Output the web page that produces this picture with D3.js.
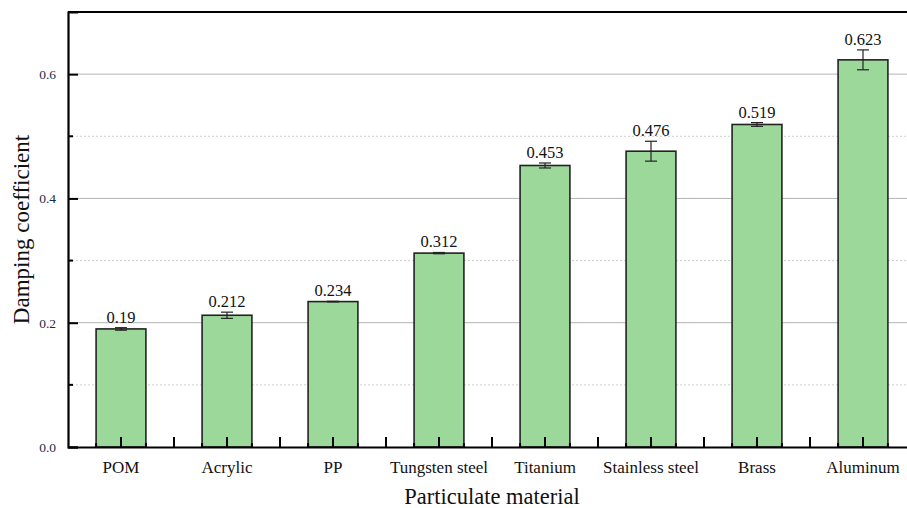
<!DOCTYPE html>
<html>
<head>
<meta charset="utf-8">
<script src="https://cdn.jsdelivr.net/npm/d3@7"></script>
<style>
  html, body { margin: 0; padding: 0; background: #fff; }
  svg { display: block; }
</style>
</head>
<body>
<svg id="chart" width="907" height="508"></svg>
<script>
// Damping coefficient by particle material (mean ± error)
const categories = ["POM", "Acrylic", "PP", "Tungsten steel", "Titanium", "Stainless steel", "Brass", "Aluminum"];
const values = [0.19, 0.212, 0.234, 0.312, 0.453, 0.476, 0.519, 0.623];
const errors = [0.002, 0.005, 0.0005, 0.001, 0.004, 0.016, 0.003, 0.016];
const majorTicks = [0.0, 0.2, 0.4, 0.6];
const minorTicks = [0.1, 0.3, 0.5];

const svg = d3.select("#chart");
const margin = { left: 68, top: 12, bottom: 447, right: 916 };
const font = "'Liberation Serif', 'Times New Roman', serif";

const x = d3.scaleBand().domain(categories).range([margin.left, margin.right]).paddingInner(0).paddingOuter(0);
const y = d3.scaleLinear().domain([0, 0.7]).range([margin.bottom, margin.top]);
const barW = x.bandwidth() * 0.47;

// gridlines
svg.append("g").selectAll("line.major").data(majorTicks.filter(d => d > 0)).join("line")
  .attr("x1", margin.left).attr("x2", margin.right)
  .attr("y1", d => y(d)).attr("y2", d => y(d))
  .attr("stroke", "#b4b4b4").attr("stroke-width", 1);
svg.append("g").selectAll("line.minor").data(minorTicks).join("line")
  .attr("x1", margin.left).attr("x2", margin.right)
  .attr("y1", d => y(d)).attr("y2", d => y(d))
  .attr("stroke", "#cfcfcf").attr("stroke-width", 1).attr("stroke-dasharray", "2,2");

// bars
const bars = svg.append("g");
bars.selectAll("rect").data(categories).join("rect")
  .attr("x", d => x(d) + x.bandwidth() / 2 - barW / 2)
  .attr("width", barW)
  .attr("y", (d, i) => y(values[i]))
  .attr("height", (d, i) => y(0) - y(values[i]))
  .attr("fill", "#9dd89b")
  .attr("stroke", "#222").attr("stroke-width", 1.6);

// error bars
const eb = svg.append("g").attr("stroke", "#222").attr("stroke-width", 1.2);
categories.forEach((c, i) => {
  const cx = x(c) + x.bandwidth() / 2;
  const top = y(values[i] + errors[i]);
  const bot = y(values[i] - errors[i]);
  eb.append("line").attr("x1", cx).attr("x2", cx).attr("y1", top).attr("y2", bot);
  eb.append("line").attr("x1", cx - 6).attr("x2", cx + 6).attr("y1", top).attr("y2", top);
  eb.append("line").attr("x1", cx - 6).attr("x2", cx + 6).attr("y1", bot).attr("y2", bot);
});

// value labels
svg.append("g").selectAll("text").data(categories).join("text")
  .attr("x", d => x(d) + x.bandwidth() / 2)
  .attr("y", (d, i) => y(values[i] + errors[i]) - 5)
  .attr("text-anchor", "middle")
  .attr("font-family", font).attr("font-size", 16.5).attr("fill", "#111")
  .text((d, i) => String(values[i]));

// frame
svg.append("line").attr("x1", margin.left).attr("x2", margin.right + 2)
  .attr("y1", margin.top).attr("y2", margin.top).attr("stroke", "#000").attr("stroke-width", 2);

// y axis
const yAxis = d3.axisLeft(y).tickValues(majorTicks).tickFormat(d3.format(".1f")).tickSize(-10).tickPadding(12);
const gy = svg.append("g").attr("transform", `translate(${margin.left},0)`).call(yAxis);
gy.select(".domain").attr("stroke", "#000").attr("stroke-width", 2.2);
gy.selectAll(".tick line").attr("stroke", "#000").attr("stroke-width", 2);
gy.selectAll(".tick text").attr("font-family", font).attr("font-size", 13.5).attr("fill", "#1c2a4a");
gy.selectAll("line.minor").data(minorTicks).join("line").attr("class", "minor")
  .attr("x1", 0).attr("x2", 5).attr("y1", d => y(d)).attr("y2", d => y(d))
  .attr("stroke", "#000").attr("stroke-width", 2);

// x axis
const xAxis = d3.axisBottom(x).tickSize(-10).tickPadding(14).tickSizeOuter(0);
const gx = svg.append("g").attr("transform", `translate(0,${margin.bottom})`).call(xAxis);
gx.select(".domain").attr("stroke", "#000").attr("stroke-width", 2.2);
gx.selectAll(".tick line").attr("stroke", "#000").attr("stroke-width", 2);
gx.selectAll(".tick text").attr("font-family", font).attr("font-size", 17).attr("fill", "#111");
// minor ticks at category boundaries
gx.selectAll("line.minor").data(categories.slice(1)).join("line").attr("class", "minor")
  .attr("x1", d => x(d)).attr("x2", d => x(d)).attr("y1", 0).attr("y2", -10)
  .attr("stroke", "#000").attr("stroke-width", 2);
// small bar-edge ticks
gx.selectAll("line.edge").data(categories.flatMap(c => [x(c) + x.bandwidth() / 2 - barW / 2, x(c) + x.bandwidth() / 2 + barW / 2])).join("line")
  .attr("class", "edge").attr("x1", d => d).attr("x2", d => d).attr("y1", 0).attr("y2", -4)
  .attr("stroke", "#000").attr("stroke-width", 2);

// axis titles
svg.append("text").attr("x", (margin.left + margin.right) / 2).attr("y", 504)
  .attr("text-anchor", "middle").attr("font-family", font).attr("font-size", 22.5).attr("fill", "#111")
  .text("Particulate material");
svg.append("text").attr("transform", `translate(29,${(margin.top + margin.bottom) / 2}) rotate(-90)`)
  .attr("text-anchor", "middle").attr("font-family", font).attr("font-size", 23).attr("fill", "#111")
  .text("Damping coefficient");
</script>
</body>
</html>
